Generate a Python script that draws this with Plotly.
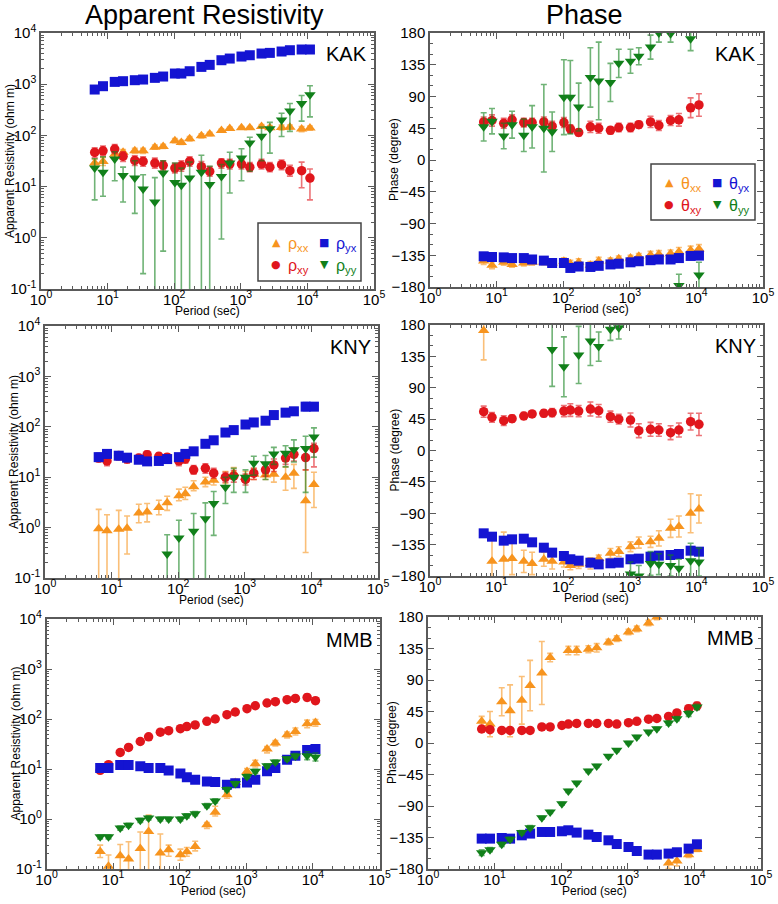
import plotly.graph_objects as go

W, H = 778, 904

# ---------------- data ----------------
periods = [6.4, 8.53, 12.8, 17.07, 25.6, 34.13, 51.2, 68.27, 102.4, 128, 170.7, 256,
           341.3, 512, 682.7, 1024, 1365, 2048, 2731, 4096, 5461, 8192, 10923]

# KAK apparent resistivity (ohm m) : value, lower, upper
kak_rho_xx = [28.8, 31, 43, 47, 50, 50, 59, 61, 79, 73, 86, 98, 106, 125, 137, 141, 141, 150, 141, 143, 145, 133, 139]
kak_rho_xx_f = [1.2, 1.2, 1.15, 1.12, 1.12, 1.12, 1.1, 1.1, 1.1, 1.1, 1.1, 1.1, 1.08, 1.06, 1.06, 1.06, 1.06, 1.08, 1.1, 1.12, 1.1, 1.12, 1.1]
kak_rho_xy = [46.5, 50, 54, 39, 32.5, 31, 28.8, 26, 23, 25.5, 31, 24.5, 19.8, 28.8, 27.6, 27.6, 24, 27.6, 24, 26.8, 20.5, 20.5, 14.7]
kak_rho_xy_lo = [37, 40, 44, 31, 26, 25, 23, 21, 18.5, 20, 25, 19.5, 16, 23, 22, 22, 19.5, 22, 19.5, 21.5, 16, 9.5, 5.5]
kak_rho_xy_hi = [57, 62, 66, 48, 40, 38, 36, 32, 28.5, 32, 38, 31, 24.5, 35, 34, 34, 29.5, 34, 29.5, 33, 26, 30, 22]
kak_rho_yx = [787, 914, 1110, 1145, 1197, 1233, 1330, 1412, 1615, 1615, 1793, 2178, 2384, 2940, 3170, 3470, 3680, 3970, 4090, 4350, 4610, 4760, 4760]
kak_rho_yx_f = [1.1, 1.1, 1.08, 1.08, 1.08, 1.08, 1.08, 1.08, 1.08, 1.08, 1.08, 1.08, 1.08, 1.08, 1.08, 1.08, 1.08, 1.08, 1.08, 1.1, 1.1, 1.15, 1.15]
kak_rho_yy = [23, 19, 34.5, 16.5, 14.7, 9, 5, 18.4, 12, 10.6, 14.7, 19, 11, 15.8, 29, 36, 71, 96, 135, 200, 300, 420, 620]
kak_rho_yy_lo = [5.5, 6.5, 13, 5, 3, 0.2, 0.01, 0.55, 0.01, 0.01, 0.01, 0.01, 0.01, 0.95, 7.5, 13, 20, 32, 45, 95, 120, 190, 230]
kak_rho_yy_hi = [35, 38, 48, 24, 32, 17, 15, 32, 29, 23, 30, 41, 25, 27, 47, 55, 92, 145, 180, 270, 420, 600, 930]

# KAK phase (degree) : value, error
kak_ph_xx = [-143, -149, -145, -148, -146, -145, -144.5, -146, -143.5, -147, -145, -149, -143, -143, -140, -139, -136.5, -134.5, -133.5, -132.5, -130, -128, -126]
kak_ph_xx_e = [5, 5, 4, 4, 4, 4, 4, 4, 5, 5, 5, 5, 5, 4, 4, 4, 4, 5, 5, 5, 6, 6, 6]
kak_ph_xy = [54, 56, 52, 57, 53, 53, 54, 48, 53, 44, 39, 47, 45, 42, 46, 46, 50, 54, 49, 56, 57, 74, 78]
kak_ph_xy_e = [7, 8, 7, 7, 6, 6, 7, 7, 7, 6, 5, 8, 7, 5, 6, 6, 5, 8, 7, 7, 9, 14, 16]
kak_ph_yx = [-136.5, -137.5, -138, -139, -139, -141, -142.6, -146, -146, -153, -151, -151.6, -150, -148, -147, -145, -143.5, -142, -141, -141, -139, -136, -135.5]
kak_ph_yx_e = [3, 3, 3, 3, 3, 3, 3, 3, 3, 3, 3, 3, 3, 3, 3, 3, 3, 3, 3, 3, 3, 3, 3]
kak_ph_yy = [47, 55, 34, 50, 35, 47, 45, 40, 89, 89, 75, 117, 112, 110, 137, 140, 147, 160, 180, 179, -178, 172, -163]
kak_ph_yy_e = [20, 18, 18, 19, 23, 30, 62, 28, 53, 52, 34, 42, 55, 27, 20, 17, 12, 17, 13, 12, 16, 17, 18]

# KNY apparent resistivity
kny_rho_xx = [0.95, 0.87, 0.93, 0.97, 1.95, 2.05, 2.5, 3.1, 4.3, 4.7, 6.5, 8, 8.7, 10.5, 12, 10, 11.5, 11, 11.5, 10, 12, 3.4, 7.2]
kny_rho_xx_lo = [0.01, 0.01, 0.01, 0.3, 1.25, 1.3, 1.8, 2.2, 3.4, 3.6, 5.4, 6.5, 7, 7.5, 9.5, 8, 9, 9, 8, 5.5, 6, 0.32, 2.5]
kny_rho_xx_hi = [2.3, 1.8, 2.2, 1.7, 2.9, 3.0, 3.5, 4.2, 5.8, 6.3, 8.5, 10, 11, 13, 15.5, 13, 15, 15, 16, 16, 18, 14, 12.5]
kny_rho_xy = [24, 21, 27, 23, 24, 28, 26, 25, 21, 23, 14, 15, 12, 10, 10.5, 9, 12, 14, 17.5, 24, 28.5, 24.5, 37]
kny_rho_xy_lo = [20, 17, 22, 19, 20, 24, 22, 21, 17, 19, 11.5, 12, 9.5, 8, 8, 7, 9, 10.5, 13, 18, 21, 14, 16]
kny_rho_xy_hi = [29, 25, 32, 27, 28, 33, 30, 29, 25, 28, 17, 18.5, 15, 12.5, 13.5, 11.5, 15, 18, 23, 31, 38, 36, 47]
kny_rho_yx = [25, 29, 26.7, 24.4, 22.2, 20.6, 21, 22.9, 25, 29, 32.6, 46, 54, 77, 86, 111, 122, 132, 171, 191, 203, 251, 251]
kny_rho_yx_f = [1.2, 1.2, 1.2, 1.15, 1.1, 1.1, 1.1, 1.1, 1.15, 1.15, 1.1, 1.1, 1.08, 1.08, 1.08, 1.08, 1.1, 1.1, 1.1, 1.15, 1.15, 1.2, 1.15]
kny_rho_yy = [None, None, None, None, None, None, None, 0.3, 0.62, None, 0.85, 1.5, 3, 6.3, 10, 10, 19, 18.5, 29, 30, 35, 37, 63]
kny_rho_yy_lo = [None, None, None, None, None, None, None, 0.01, 0.01, None, 0.01, 0.01, 0.7, 3, 5, 5, 11, 9, 18, 16, 20, 5, 25]
kny_rho_yy_hi = [None, None, None, None, None, None, None, 0.72, 1.4, None, 1.9, 3.1, 5.2, 10, 15, 14, 26, 27, 39, 42, 55, 65, 95]

# KNY phase
kny_ph_xx = [172, -159, -156, -155, -159, -162, -156, -159, -160, -165, -163, -162, -155, -147.5, -145, -138, -132, -131, -126, -111.6, -109, -90, -84]
kny_ph_xx_e = [42, 40, 39, 23, 16, 16, 10, 11, 7, 6, 6, 8, 5, 7, 7, 7, 8, 8, 11, 13, 15, 28, 20]
kny_ph_xy = [55.7, 47.6, 42.8, 45.7, 49.5, 52.4, 53.3, 54.3, 56.6, 58, 56.6, 59.5, 57, 48.5, 45, 43.7, 28.4, 30.4, 29.4, 25.6, 29.4, 41.4, 37.5]
kny_ph_xy_e = [8, 7, 7, 5, 5, 4, 5, 6, 8, 9, 8, 10, 9, 8, 7, 10, 10, 10, 9, 10, 10, 12, 16]
kny_ph_yx = [-118.8, -123.6, -129.3, -127.4, -126.5, -131.7, -139.4, -146.5, -151.3, -156, -158, -160.9, -163.3, -161.8, -160.9, -156, -155.1, -152.3, -150.8, -149.9, -148.4, -143.7, -145.1]
kny_ph_yx_e = [5, 4, 5, 4, 4, 4, 4, 3, 3, 3, 3, 3, 3, 3, 3, 3, 3, 3, 3, 4, 4, 5, 5]
kny_ph_yy = [None, None, None, None, None, None, None, 145, 120, None, 137, 157, 149, 174, 176, -177, -180, -162, -163, -165, -169, -158, -160]
kny_ph_yy_e = [None, None, None, None, None, None, None, 53, 43, None, 41, 35, 21, 16, 16, 17, 15, 17, 15, 15, 13, 25, 20]

# MMB apparent resistivity
mmb_rho_xx = [0.225, 0.113, 0.185, 0.158, 0.258, 0.565, 0.209, 0.243, 0.193, 0.222, 0.283, 0.77, 1.36, 3.06, 5.4, 8.96, 12.8, 25, 33, 48.5, 56.5, 80.5, 85.5]
mmb_rho_xx_lo = [0.17, 0.01, 0.01, 0.01, 0.01, 0.01, 0.01, 0.18, 0.15, 0.18, 0.23, 0.65, 1.15, 2.6, 4.6, 7.8, 11, 21, 29, 42, 48, 67, 72]
mmb_rho_xx_hi = [0.3, 0.19, 0.31, 0.35, 0.55, 1.2, 0.5, 0.3, 0.25, 0.27, 0.36, 0.85, 1.8, 3.4, 6.2, 10.2, 15, 28, 37, 55, 66, 95, 98]
mmb_rho_xy = [9.4, 12.2, 21.4, 27, 35.5, 44, 54.5, 58.5, 64, 70.5, 76, 90, 100, 122, 138, 161, 184, 209, 222, 243, 258, 270, 232]
mmb_rho_xy_f = [1.06, 1.06, 1.05, 1.05, 1.05, 1.05, 1.05, 1.05, 1.05, 1.05, 1.05, 1.05, 1.05, 1.05, 1.05, 1.05, 1.06, 1.06, 1.06, 1.08, 1.08, 1.15, 1.15]
mmb_rho_yx = [10.5, 10.5, 12, 12, 11.3, 10.5, 10.5, 9.3, 8.1, 6.8, 6.1, 5.6, 5.5, 4.85, 5.2, 5.4, 6.1, 9.0, 10.5, 15.3, 18.5, 24, 25]
mmb_rho_yx_f = [1.08, 1.08, 1.08, 1.08, 1.08, 1.08, 1.08, 1.08, 1.08, 1.08, 1.08, 1.08, 1.08, 1.08, 1.08, 1.08, 1.08, 1.08, 1.08, 1.1, 1.1, 1.12, 1.12]
mmb_rho_yy = [0.44, 0.44, 0.66, 0.75, 0.94, 1.05, 1.0, 1.0, 1.0, 1.16, 1.28, 1.85, 2.3, 3.9, 5.1, 7.1, 9.0, 11.6, 13.8, 16, 18.2, 18.5, 17.4]
mmb_rho_yy_f = [1.1, 1.1, 1.1, 1.1, 1.1, 1.1, 1.1, 1.1, 1.1, 1.1, 1.1, 1.1, 1.1, 1.1, 1.1, 1.1, 1.1, 1.1, 1.1, 1.1, 1.12, 1.2, 1.2]

# MMB phase
mmb_ph_xx = [31, 27, 59, 46, 61, 82, 100, 122, None, 132, 132, 134, 136, 144, 149, 158.6, 163, 171.4, 180, -171.4, -168.6, -159.6, -152]
mmb_ph_xx_e = [7, 18, 20, 37, 34, 36, 45, 6, None, 6, 6, 5, 6, 4, 4, 4, 4, 4, 4, 8, 7, 4, 3]
mmb_ph_xy = [20, 19, 18, 18, 18, 18, 23, 23, 25, 27, 28, 28, 28, 28, 27, 29, 31, 34, 35, 38, 43, 49, 53]
mmb_ph_xy_e = [3, 3, 2, 2, 2, 2, 2, 2, 2, 2, 2, 2, 2, 2, 2, 2, 2, 2, 2, 3, 3, 5, 5]
mmb_ph_yx = [-136.6, -136.6, -135.7, -136.6, -131.9, -129.4, -127.1, -127.1, -126.1, -124.7, -128, -130.9, -134.3, -139, -144.3, -148.6, -154.3, -159.4, -159.4, -158, -156.1, -150.9, -144.7]
mmb_ph_yx_e = [2, 2, 2, 2, 2, 2, 2, 2, 2, 2, 2, 2, 2, 2, 2, 2, 2, 2, 2, 2, 2, 3, 3]
mmb_ph_yy = [-156.7, -152.4, -144.8, -137.6, -128, -121, -106.7, -98.6, -86.7, -68.6, -57, -40, -32.9, -19, -10.5, 0, 8.6, 15.7, 20.5, 28.6, 34.8, 42, 51.4]
mmb_ph_yy_e = [4, 3, 3, 3, 3, 3, 2, 2, 2, 2, 2, 2, 2, 2, 2, 2, 2, 2, 2, 3, 3, 4, 4]

rho_ticks = [0.1, 1, 10, 100, 1000, 10000]
rho_ticktext = ['10<sup>-1</sup>', '10<sup>0</sup>', '10<sup>1</sup>', '10<sup>2</sup>', '10<sup>3</sup>', '10<sup>4</sup>']
period_ticks = [1, 10, 100, 1000, 10000, 100000]
period_ticktext = ['10<sup>0</sup>', '10<sup>1</sup>', '10<sup>2</sup>', '10<sup>3</sup>', '10<sup>4</sup>', '10<sup>5</sup>']
phase_ticks = [-180, -135, -90, -45, 0, 45, 90, 135, 180]

stations = ['KAK', 'KNY', 'MMB']
comp_names = ['xx', 'xy', 'yx', 'yy']

# ---------------- styles ----------------
COL = {'xx': (247, 148, 30), 'xy': (224, 22, 28), 'yx': (20, 20, 210), 'yy': (17, 128, 26)}
SYM = {'xx': 'triangle-up', 'xy': 'circle', 'yx': 'square', 'yy': 'triangle-down'}
SIZE = {'xx': 10, 'xy': 9.5, 'yx': 10, 'yy': 10}
GLYPH = {'xx': '\u25B2', 'xy': '\u25CF', 'yx': '\u25A0', 'yy': '\u25BC'}
FONT = 'Arial, Liberation Sans, sans-serif'
AXCOL = '#5a5a5a'


def rgb(c, a=1.0):
    return 'rgba(%d,%d,%d,%s)' % (c[0], c[1], c[2], a)


def from_factor(v, f):
    lo = [None if a is None else a / b for a, b in zip(v, f)]
    hi = [None if a is None else a * b for a, b in zip(v, f)]
    return lo, hi


rho_data = {
    'KAK': {'xx': (kak_rho_xx,) + tuple(from_factor(kak_rho_xx, kak_rho_xx_f)),
            'xy': (kak_rho_xy, kak_rho_xy_lo, kak_rho_xy_hi),
            'yx': (kak_rho_yx,) + tuple(from_factor(kak_rho_yx, kak_rho_yx_f)),
            'yy': (kak_rho_yy, kak_rho_yy_lo, kak_rho_yy_hi)},
    'KNY': {'xx': (kny_rho_xx, kny_rho_xx_lo, kny_rho_xx_hi),
            'xy': (kny_rho_xy, kny_rho_xy_lo, kny_rho_xy_hi),
            'yx': (kny_rho_yx,) + tuple(from_factor(kny_rho_yx, kny_rho_yx_f)),
            'yy': (kny_rho_yy, kny_rho_yy_lo, kny_rho_yy_hi)},
    'MMB': {'xx': (mmb_rho_xx, mmb_rho_xx_lo, mmb_rho_xx_hi),
            'xy': (mmb_rho_xy,) + tuple(from_factor(mmb_rho_xy, mmb_rho_xy_f)),
            'yx': (mmb_rho_yx,) + tuple(from_factor(mmb_rho_yx, mmb_rho_yx_f)),
            'yy': (mmb_rho_yy,) + tuple(from_factor(mmb_rho_yy, mmb_rho_yy_f))},
}
phase_data = {
    'KAK': {'xx': (kak_ph_xx, kak_ph_xx_e), 'xy': (kak_ph_xy, kak_ph_xy_e),
            'yx': (kak_ph_yx, kak_ph_yx_e), 'yy': (kak_ph_yy, kak_ph_yy_e)},
    'KNY': {'xx': (kny_ph_xx, kny_ph_xx_e), 'xy': (kny_ph_xy, kny_ph_xy_e),
            'yx': (kny_ph_yx, kny_ph_yx_e), 'yy': (kny_ph_yy, kny_ph_yy_e)},
    'MMB': {'xx': (mmb_ph_xx, mmb_ph_xx_e), 'xy': (mmb_ph_xy, mmb_ph_xy_e),
            'yx': (mmb_ph_yx, mmb_ph_yx_e), 'yy': (mmb_ph_yy, mmb_ph_yy_e)},
}

# panel boxes in pixels: (x_left, x_right, y_top, y_bottom)
boxes = {
    ('KAK', 'rho'): (41, 374, 33, 289),
    ('KAK', 'phase'): (430, 763, 33, 287),
    ('KNY', 'rho'): (45, 378, 326, 578),
    ('KNY', 'phase'): (430, 763, 325, 576),
    ('MMB', 'rho'): (46.5, 379.5, 619, 869),
    ('MMB', 'phase'): (428, 761, 617, 869),
}


def px(x):
    return x / W


def py(y):
    return 1 - y / H


fig = go.Figure()
annotations = []
shapes = []

minor_period = [k * 10 ** d for d in range(0, 5) for k in range(2, 10)]
minor_rho = [k * 10 ** d for d in range(-1, 4) for k in range(2, 10)]

n = 0
for st in stations:
    for kind in ['rho', 'phase']:
        n += 1
        xl, xr, yt, yb = boxes[(st, kind)]
        xname = 'x' if n == 1 else 'x%d' % n
        yname = 'y' if n == 1 else 'y%d' % n
        xkey = 'xaxis' if n == 1 else 'xaxis%d' % n
        ykey = 'yaxis' if n == 1 else 'yaxis%d' % n
        common = dict(showline=True, linecolor=AXCOL, linewidth=1.5, mirror='allticks',
                      ticks='inside', ticklen=6, tickwidth=1, tickcolor=AXCOL,
                      showgrid=False, zeroline=False, automargin=False,
                      tickfont=dict(family=FONT, size=15, color='black'))
        xax = dict(common, domain=[px(xl), px(xr)], anchor=yname, type='log', range=[0, 5],
                   tickmode='array', tickvals=period_ticks, ticktext=period_ticktext,
                   ticklabelstandoff=-4,
                   minor=dict(tickmode='array', tickvals=minor_period, ticks='inside',
                              ticklen=3, tickcolor=AXCOL, tickwidth=1))
        if kind == 'rho':
            yax = dict(common, domain=[py(yb), py(yt)], anchor=xname, type='log', range=[-1, 4],
                       tickmode='array', tickvals=rho_ticks, ticktext=rho_ticktext,
                       minor=dict(tickmode='array', tickvals=minor_rho, ticks='inside',
                                  ticklen=3, tickcolor=AXCOL, tickwidth=1))
        else:
            yax = dict(common, domain=[py(yb), py(yt)], anchor=xname, range=[-180, 180],
                       tickmode='array', tickvals=phase_ticks,
                       minor=dict(dtick=15, tick0=0, ticks='inside', ticklen=3,
                                  tickcolor=AXCOL, tickwidth=1))
        fig.update_layout(**{xkey: xax, ykey: yax})

        for c in comp_names:
            col = COL[c]
            if kind == 'rho':
                v, lo, hi = rho_data[st][c]
                plus = [None if a is None else b - a for a, b in zip(v, hi)]
                minus = [None if a is None else a - b for a, b in zip(v, lo)]
                err = dict(type='data', symmetric=False, array=plus, arrayminus=minus,
                           color=rgb(col, 0.6), thickness=1.6, width=3)
            else:
                v, e = phase_data[st][c]
                err = dict(type='data', array=e, color=rgb(col, 0.6), thickness=1.6, width=3)
            fig.add_trace(go.Scatter(
                x=periods, y=v, mode='markers', xaxis=xname, yaxis=yname,
                marker=dict(symbol=SYM[c], size=SIZE[c], color=rgb(col),
                            line=dict(width=0)),
                error_y=err, showlegend=False, name=c))

        # station label
        annotations.append(dict(x=px(xr - 5), y=py(yt + 21), xref='paper', yref='paper',
                                text=st, showarrow=False, xanchor='right', yanchor='middle',
                                font=dict(family=FONT, size=20, color='black')))
        # axis titles
        annotations.append(dict(x=px((xl + xr) / 2), y=py(yb + 22), xref='paper', yref='paper',
                                text='Period (sec)', showarrow=False, xanchor='center',
                                yanchor='middle', font=dict(family=FONT, size=12, color='black')))
        ytitle = 'Apparent Resistivity (ohm m)' if kind == 'rho' else 'Phase (degree)'
        annotations.append(dict(x=px(xl - 31 if kind == 'rho' else xl - 36),
                                y=py((yt + yb) / 2), xref='paper', yref='paper',
                                text=ytitle, showarrow=False, textangle=-90,
                                xanchor='center', yanchor='middle',
                                font=dict(family=FONT, size=12, color='black')))

# column titles
annotations.append(dict(x=px(204), y=py(15), xref='paper', yref='paper', text='Apparent Resistivity',
                        showarrow=False, xanchor='center', yanchor='middle',
                        font=dict(family=FONT, size=27, color='black')))
annotations.append(dict(x=px(584), y=py(15), xref='paper', yref='paper', text='Phase',
                        showarrow=False, xanchor='center', yanchor='middle',
                        font=dict(family=FONT, size=27, color='black')))


# legends (KAK panels)
def add_legend(x0, y0, x1, y1, letter):
    shapes.append(dict(type='rect', xref='paper', yref='paper', x0=px(x0), x1=px(x1),
                       y0=py(y1), y1=py(y0), line=dict(color='#444', width=1.5),
                       fillcolor='white', layer='above'))
    rows = [y0 + (y1 - y0) * 0.33, y0 + (y1 - y0) * 0.72]
    cols = [x0 + 18, x0 + 66]
    layout_pos = {'xx': (0, 0), 'yx': (1, 0), 'xy': (0, 1), 'yy': (1, 1)}
    for c in comp_names:
        ci, ri = layout_pos[c]
        col = rgb(COL[c])
        annotations.append(dict(x=px(cols[ci]), y=py(rows[ri]), xref='paper', yref='paper',
                                text=GLYPH[c], showarrow=False, xanchor='center', yanchor='middle',
                                font=dict(family='DejaVu Sans', size=11, color=col)))
        annotations.append(dict(x=px(cols[ci] + 10), y=py(rows[ri] + 2), xref='paper', yref='paper',
                                text=letter + '<sub>' + c + '</sub>', showarrow=False,
                                xanchor='left', yanchor='middle',
                                font=dict(family=FONT, size=16, color=col)))


add_legend(258, 223, 361, 281, '\u03C1')
add_legend(651, 164, 755, 220, '\u03B8')

fig.update_layout(width=W, height=H,
                  margin=dict(l=0, r=0, t=0, b=0, pad=0, autoexpand=False),
                  paper_bgcolor='white', plot_bgcolor='white',
                  annotations=annotations, shapes=shapes, showlegend=False)

fig.write_html('out.html', config={'displayModeBar': False},
               post_script="document.body.style.margin='0';document.body.style.padding='0';")
